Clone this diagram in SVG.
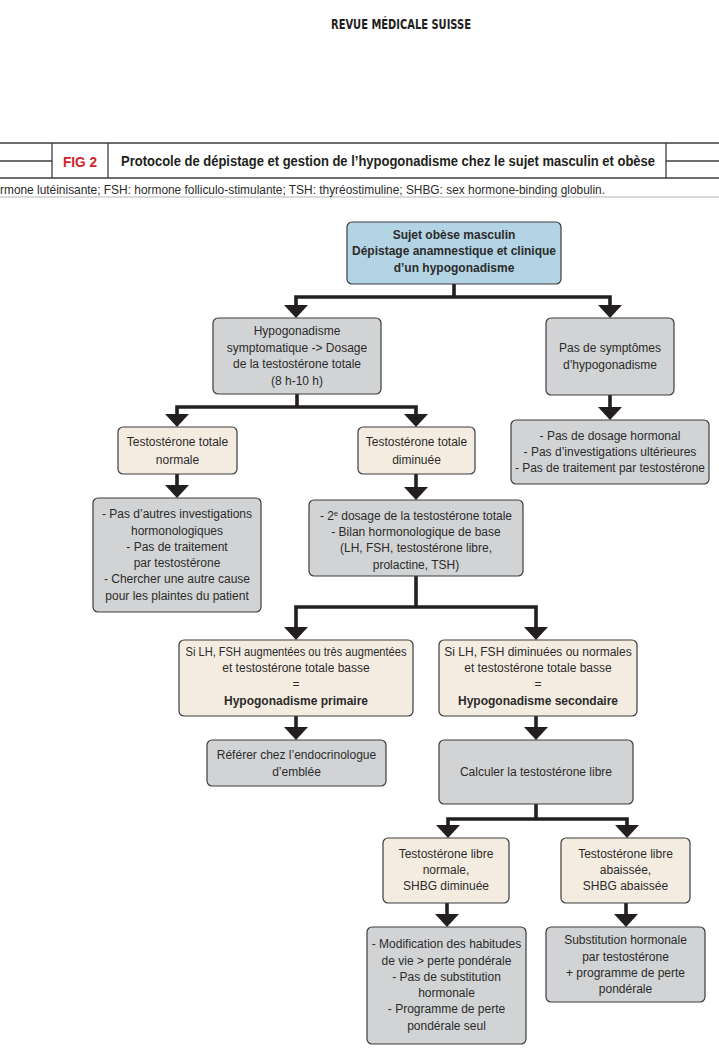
<svg xmlns="http://www.w3.org/2000/svg" width="719" height="1054" viewBox="0 0 719 1054">
<style>
.t{font-family:"Liberation Sans",Arial,sans-serif;font-size:12px;fill:#2b2b2b;text-anchor:middle}
.b{font-weight:bold}
.gray{fill:#d1d3d4;stroke:#3c3c3c;stroke-width:1.2}
.beige{fill:#f5ece1;stroke:#3c3c3c;stroke-width:1.2}
.blue{fill:#b3d4e4;stroke:#3c3c3c;stroke-width:1.2}
.c{fill:none;stroke:#231f20;stroke-width:3.6;stroke-linejoin:miter}
.rule{stroke:#3c3c3c;stroke-width:1.3;fill:none}
</style>
<defs>
<marker id="ah" markerUnits="userSpaceOnUse" markerWidth="14" markerHeight="24" viewBox="0 0 14 24" refX="1" refY="12" orient="auto-start-reverse">
<path d="M0,0 L13,12 L0,24 z" fill="#231f20"/>
</marker>
</defs>
<rect width="719" height="1054" fill="#ffffff"/>
<g id="header">
<text x="401" y="29" style="font-family:'DejaVu Sans','Liberation Sans',sans-serif;font-size:14px;font-weight:bold;fill:#231f20;text-anchor:middle" textLength="140" lengthAdjust="spacingAndGlyphs">REVUE MÉDICALE SUISSE</text>
</g>
<g id="titlebar">
<line class="rule" x1="0" y1="143" x2="719" y2="143"/>
<line class="rule" x1="0" y1="178" x2="719" y2="178"/>
<line class="rule" x1="0" y1="161" x2="52" y2="161"/>
<line class="rule" x1="666" y1="161" x2="719" y2="161"/>
<line class="rule" x1="52" y1="143" x2="52" y2="178"/>
<line class="rule" x1="108" y1="143" x2="108" y2="178"/>
<line class="rule" x1="666" y1="143" x2="666" y2="178"/>
<line x1="0" y1="197" x2="719" y2="197" stroke="#b5b5b5" stroke-width="1"/>
<text x="63" y="167" style="font-family:'Liberation Sans',Arial,sans-serif;font-size:15px;font-weight:bold;fill:#d2232a" textLength="34" lengthAdjust="spacingAndGlyphs">FIG 2</text>
<text x="121" y="166" style="font-family:'Liberation Sans',Arial,sans-serif;font-size:14px;font-weight:bold;fill:#231f20" textLength="534" lengthAdjust="spacingAndGlyphs">Protocole de dépistage et gestion de l’hypogonadisme chez le sujet masculin et obèse</text>
<text x="0" y="194" style="font-family:'Liberation Sans',Arial,sans-serif;font-size:12px;fill:#2b2b2b" textLength="605" lengthAdjust="spacingAndGlyphs">rmone lutéinisante; FSH: hormone folliculo-stimulante; TSH: thyréostimuline; SHBG: sex hormone-binding globulin.</text>
</g>
<g id="connectors">
<path class="c" d="M454,284 V297"/>
<path class="c" d="M296,306 V297 H610 V306" marker-start="url(#ah)" marker-end="url(#ah)"/>
<path class="c" d="M297,394 V407"/>
<path class="c" d="M177,415 V407 H416 V415" marker-start="url(#ah)" marker-end="url(#ah)"/>
<path class="c" d="M610,395 V408" marker-end="url(#ah)"/>
<path class="c" d="M177,474 V486" marker-end="url(#ah)"/>
<path class="c" d="M416,474 V488" marker-end="url(#ah)"/>
<path class="c" d="M416,576 V607"/>
<path class="c" d="M296,628 V607 H536 V628" marker-start="url(#ah)" marker-end="url(#ah)"/>
<path class="c" d="M296,716 V728" marker-end="url(#ah)"/>
<path class="c" d="M536,716 V728" marker-end="url(#ah)"/>
<path class="c" d="M536,804 V819"/>
<path class="c" d="M448,826 V819 H627 V826" marker-start="url(#ah)" marker-end="url(#ah)"/>
<path class="c" d="M447,903 V915" marker-end="url(#ah)"/>
<path class="c" d="M626,903 V915" marker-end="url(#ah)"/>
</g>
<g id="n1">
<rect class="blue" x="347" y="222" width="214" height="62" rx="5"/>
<text class="t b" x="454" y="239">Sujet obèse masculin</text>
<text class="t b" x="454" y="255">Dépistage anamnestique et clinique</text>
<text class="t b" x="454" y="272">d’un hypogonadisme</text>
</g>
<g id="n2">
<rect class="gray" x="213" y="318" width="168" height="76" rx="5"/>
<text class="t" x="297" y="335">Hypogonadisme</text>
<text class="t" x="297" y="352">symptomatique -&gt; Dosage</text>
<text class="t" x="297" y="368">de la testostérone totale</text>
<text class="t" x="297" y="385">(8 h-10 h)</text>
</g>
<g id="n3">
<rect class="gray" x="546" y="318" width="128" height="77" rx="5"/>
<text class="t" x="610" y="352">Pas de symptômes</text>
<text class="t" x="610" y="369">d’hypogonadisme</text>
</g>
<g id="n4">
<rect class="gray" x="511" y="420" width="198" height="64" rx="5"/>
<text class="t" x="610" y="440">- Pas de dosage hormonal</text>
<text class="t" x="610" y="456">- Pas d’investigations ultérieures</text>
<text class="t" x="610" y="472" textLength="190" lengthAdjust="spacingAndGlyphs">- Pas de traitement par testostérone</text>
</g>
<g id="n5">
<rect class="beige" x="118" y="427" width="119" height="47" rx="5"/>
<text class="t" x="177.5" y="446">Testostérone totale</text>
<text class="t" x="177.5" y="464">normale</text>
</g>
<g id="n6">
<rect class="beige" x="358" y="427" width="117" height="47" rx="5"/>
<text class="t" x="416.5" y="446">Testostérone totale</text>
<text class="t" x="416.5" y="464">diminuée</text>
</g>
<g id="n7">
<rect class="gray" x="93" y="498" width="168" height="114" rx="5"/>
<text class="t" x="177" y="518">- Pas d’autres investigations</text>
<text class="t" x="177" y="535">hormonologiques</text>
<text class="t" x="177" y="551">- Pas de traitement</text>
<text class="t" x="177" y="567">par testostérone</text>
<text class="t" x="177" y="583">- Chercher une autre cause</text>
<text class="t" x="177" y="600">pour les plaintes du patient</text>
</g>
<g id="n8">
<rect class="gray" x="309" y="500" width="214" height="76" rx="5"/>
<text class="t" x="416" y="520">- 2<tspan font-size="7" dy="-4">e</tspan><tspan dy="4">  dosage de la testostérone totale</tspan></text>
<text class="t" x="416" y="536">- Bilan hormonologique de base</text>
<text class="t" x="416" y="552">(LH, FSH, testostérone libre,</text>
<text class="t" x="416" y="569">prolactine, TSH)</text>
</g>
<g id="n9">
<rect class="beige" x="179" y="640" width="234" height="76" rx="5"/>
<text class="t" x="296" y="656" textLength="221" lengthAdjust="spacingAndGlyphs">Si LH, FSH augmentées ou très augmentées</text>
<text class="t" x="296" y="672">et testostérone totale basse</text>
<text class="t" x="296" y="688">=</text>
<text class="t b" x="296" y="705">Hypogonadisme primaire</text>
</g>
<g id="n10">
<rect class="beige" x="439" y="640" width="198" height="76" rx="5"/>
<text class="t" x="538" y="656">Si LH, FSH diminuées ou normales</text>
<text class="t" x="538" y="672">et testostérone totale basse</text>
<text class="t" x="538" y="688">=</text>
<text class="t b" x="538" y="705">Hypogonadisme secondaire</text>
</g>
<g id="n11">
<rect class="gray" x="207" y="740" width="179" height="46" rx="5"/>
<text class="t" x="296.5" y="759">Référer chez l’endocrinologue</text>
<text class="t" x="296.5" y="776">d’emblée</text>
</g>
<g id="n12">
<rect class="gray" x="439" y="740" width="194" height="64" rx="5"/>
<text class="t" x="536" y="776">Calculer la testostérone libre</text>
</g>
<g id="n13">
<rect class="beige" x="383" y="838" width="126" height="65" rx="5"/>
<text class="t" x="446" y="858">Testostérone libre</text>
<text class="t" x="446" y="874">normale,</text>
<text class="t" x="446" y="890">SHBG diminuée</text>
</g>
<g id="n14">
<rect class="beige" x="561" y="838" width="129" height="65" rx="5"/>
<text class="t" x="625.5" y="858">Testostérone libre</text>
<text class="t" x="625.5" y="874">abaissée,</text>
<text class="t" x="625.5" y="890">SHBG abaissée</text>
</g>
<g id="n15">
<rect class="gray" x="367" y="927" width="159" height="117" rx="5"/>
<text class="t" x="446.5" y="948">- Modification des habitudes</text>
<text class="t" x="446.5" y="965">de vie &gt; perte pondérale</text>
<text class="t" x="446.5" y="981">- Pas de substitution</text>
<text class="t" x="446.5" y="997">hormonale</text>
<text class="t" x="446.5" y="1013">- Programme de perte</text>
<text class="t" x="446.5" y="1030">pondérale seul</text>
</g>
<g id="n16">
<rect class="gray" x="546" y="927" width="159" height="75" rx="5"/>
<text class="t" x="625.5" y="944">Substitution hormonale</text>
<text class="t" x="625.5" y="961">par testostérone</text>
<text class="t" x="625.5" y="977">+ programme de perte</text>
<text class="t" x="625.5" y="993">pondérale</text>
</g>
</svg>
